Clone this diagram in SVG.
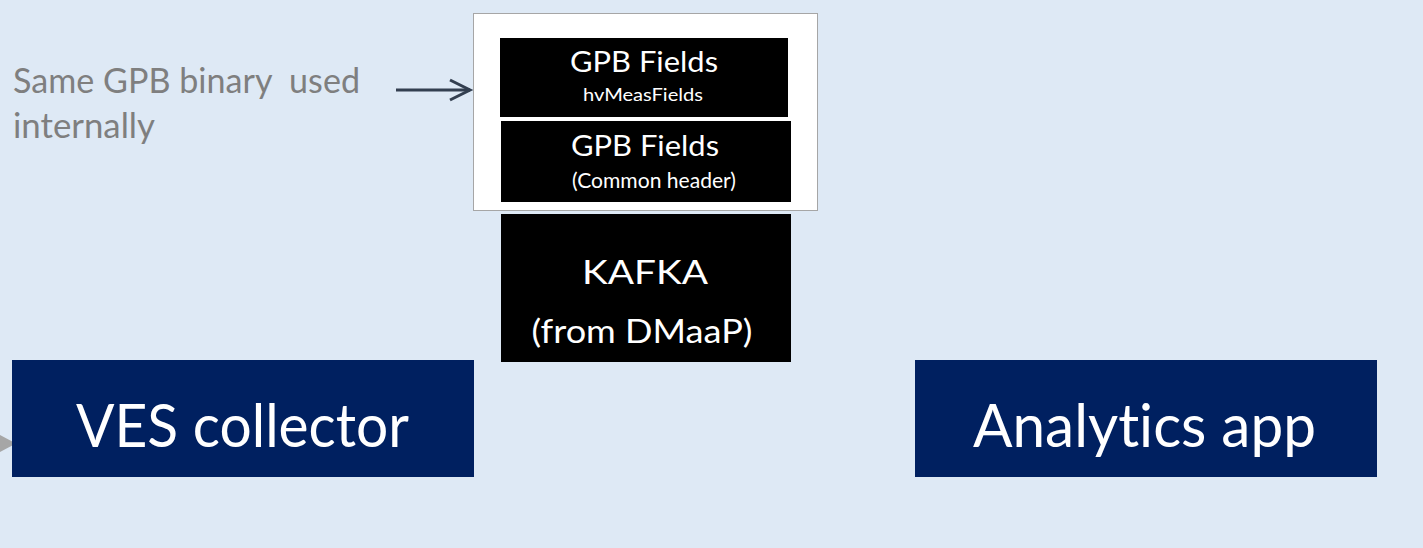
<svg xmlns="http://www.w3.org/2000/svg" width="1423" height="548" viewBox="0 0 1423 548">
<defs>
<style>
.t{font-family:Lato,"Open Sans","Liberation Sans",sans-serif;fill:#fff;text-anchor:middle;font-variant-ligatures:none}
.g{font-family:Lato,"Open Sans","Liberation Sans",sans-serif;fill:#7f7f7f;font-size:34px;white-space:pre;font-variant-ligatures:none}
.blk{fill:#000}
.navy{fill:#002060}
</style>
<marker id="chev" markerWidth="10" markerHeight="12" refX="8" refY="6" orient="auto" markerUnits="userSpaceOnUse" overflow="visible">
<path d="M-12,-4 L8,6 L-12,16" fill="none" stroke="#333f50" stroke-width="3" stroke-linejoin="miter"/>
</marker>
</defs>
<rect width="1423" height="548" fill="#dee9f5"/>
<g id="note">
<text class="g" x="13" y="93" textLength="347" lengthAdjust="spacingAndGlyphs" xml:space="preserve">Same GPB binary  used</text>
<text class="g" x="13" y="138" textLength="142" lengthAdjust="spacingAndGlyphs">internally</text>
</g>
<g id="connectors">
<line x1="396" y1="90" x2="470" y2="90" stroke="#333f50" stroke-width="3" marker-end="url(#chev)"/>
<polygon points="0,435 16,443.5 0,452" fill="#a6a6a6"/>
</g>
<g id="gpb-container">
<rect x="473.5" y="13.5" width="344" height="197" fill="#fff" stroke="#a6a6a6" stroke-width="1"/>
</g>
<g id="gpb-meas">
<rect class="blk" x="500" y="38" width="288" height="79"/>
<text class="t" x="644" y="72" font-size="29" textLength="148" lengthAdjust="spacingAndGlyphs">GPB Fields</text>
<text class="t" x="643" y="101" font-size="17" textLength="120" lengthAdjust="spacingAndGlyphs">hvMeasFields</text>
</g>
<g id="gpb-common">
<rect class="blk" x="501" y="121" width="290" height="81"/>
<text class="t" x="645" y="156" font-size="29" textLength="148" lengthAdjust="spacingAndGlyphs">GPB Fields</text>
<text class="t" x="654" y="188" font-size="21" textLength="164" lengthAdjust="spacingAndGlyphs">(Common header)</text>
</g>
<g id="kafka">
<rect class="blk" x="501" y="214" width="290" height="148"/>
<text class="t" x="645" y="284" font-size="32" textLength="126" lengthAdjust="spacingAndGlyphs">KAFKA</text>
<text class="t" x="642" y="343" font-size="32" textLength="221" lengthAdjust="spacingAndGlyphs">(from DMaaP)</text>
</g>
<g id="ves">
<rect class="navy" x="12" y="360" width="462" height="117"/>
<text class="t" x="242.5" y="447" font-size="60" textLength="333" lengthAdjust="spacingAndGlyphs">VES collector</text>
</g>
<g id="analytics">
<rect class="navy" x="915" y="360" width="462" height="117"/>
<text class="t" x="1144.5" y="447" font-size="60" textLength="343" lengthAdjust="spacingAndGlyphs">Analytics app</text>
</g>
</svg>
